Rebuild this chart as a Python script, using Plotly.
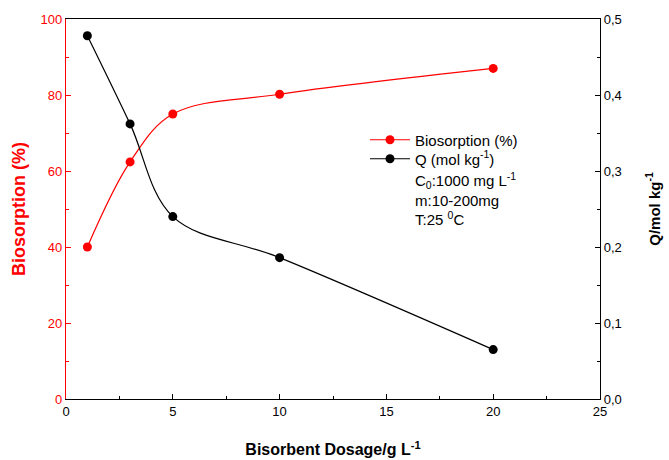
import plotly.graph_objects as go

dosage = [1, 3, 5, 10, 20]
biosorption = [40.0, 62.4, 75.0, 80.2, 87.0]
q_values = [0.478, 0.362, 0.240, 0.186, 0.065]

x_ticks = [0, 5, 10, 15, 20, 25]
left_ticks = [0, 20, 40, 60, 80, 100]
right_ticks = [0.0, 0.1, 0.2, 0.3, 0.4, 0.5]
right_labels = ["0,0", "0,1", "0,2", "0,3", "0,4", "0,5"]

W, H = 669, 460
L, R, T, B = 66, 69, 19, 61
pw, ph = W - L - R, H - T - B

def px(x):
    return (x - L) / pw

def py(y):
    return 1 - (y - T) / ph

FONT = "Liberation Sans, Arial, sans-serif"
RED = "#ff0000"

fig = go.Figure()
fig.add_trace(go.Scatter(
    x=dosage, y=biosorption, name="Biosorption (%)",
    mode="lines+markers", line=dict(color=RED, width=1.2, shape="spline"),
    marker=dict(color=RED, size=9), yaxis="y", legend="legend"))
fig.add_trace(go.Scatter(
    x=dosage, y=q_values, name="Q (mol kg<sup>-1</sup>)",
    mode="lines+markers", line=dict(color="black", width=1.2, shape="spline"),
    marker=dict(color="black", size=9), yaxis="y2", legend="legend2"))

leg_common = dict(xanchor="left", yanchor="middle", bgcolor="rgba(0,0,0,0)",
                  font=dict(size=15, family=FONT), itemwidth=40)

fig.update_layout(
    width=W, height=H,
    margin=dict(l=L, r=R, t=T, b=B),
    paper_bgcolor="white", plot_bgcolor="white",
    font=dict(family=FONT, size=13, color="black"),
    showlegend=True,
    legend=dict(x=px(365), y=py(140), **leg_common),
    legend2=dict(x=px(365), y=py(159), **leg_common),
    xaxis=dict(range=[0, 25], tickvals=x_ticks, showgrid=False, zeroline=False,
               showline=True, linecolor="black", linewidth=1.2, mirror=True,
               ticks="inside", ticklen=5, tickcolor="black", automargin=False,
               minor=dict(ticks="inside", ticklen=3, dtick=2.5, tickcolor="black"),
               tickfont=dict(size=13),
               title=dict(text="<b>Bisorbent Dosage/g L<sup>-1</sup></b>",
                          font=dict(size=16), standoff=26)),
    yaxis=dict(range=[0, 100], tickvals=left_ticks, showgrid=False, zeroline=False,
               showline=True, linecolor=RED, linewidth=1.2, automargin=False,
               ticks="inside", ticklen=5, tickcolor=RED,
               minor=dict(ticks="inside", ticklen=3, dtick=10, tickcolor=RED),
               tickfont=dict(size=13, color=RED),
               title=dict(text="<b>Biosorption (%)</b>", font=dict(size=18, color=RED),
                          standoff=10)),
    yaxis2=dict(range=[0, 0.5], overlaying="y", side="right",
                tickvals=right_ticks, ticktext=right_labels, automargin=False,
                showgrid=False, zeroline=False,
                showline=True, linecolor="black", linewidth=1.2,
                ticks="inside", ticklen=5, tickcolor="black",
                minor=dict(ticks="inside", ticklen=3, dtick=0.05, tickcolor="black"),
                tickfont=dict(size=13),
                title=dict(text="<b>Q/mol kg<sup>-1</sup></b>", font=dict(size=15),
                           standoff=28)),
)

extra = [
    ("C<sub>0</sub>:1000 mg L<sup>-1</sup>", 180),
    ("m:10-200mg", 200),
    ("T:25 <sup>0</sup>C", 218),
]
for txt, yy in extra:
    fig.add_annotation(text=txt, xref="paper", yref="paper", x=px(413), y=py(yy),
                       xanchor="left", yanchor="middle", showarrow=False,
                       font=dict(size=15, family=FONT))

fig.write_html("out.html")
